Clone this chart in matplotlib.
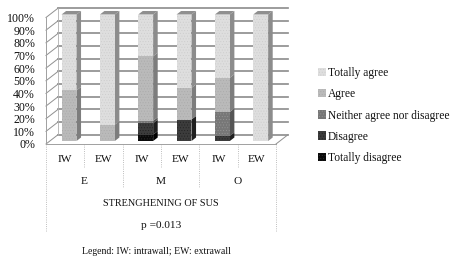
import numpy as np
import matplotlib
matplotlib.use("Agg")
import matplotlib.pyplot as plt
from matplotlib.patches import Patch

plt.rcParams.update({
    "font.family": "Liberation Serif",
    "font.size": 8.2,
    "hatch.linewidth": 0.3,
})

# === Datos ===
bar_labels = ["IW", "EW", "IW", "EW", "IW", "EW"]
group_labels = ["E", "M", "O"]
series_names = ["Totally disagree", "Disagree", "Neither agree nor disagree", "Agree", "Totally agree"]

totally_disagree = [0, 0, 5, 0, 0, 0]
disagree = [0, 0, 9, 17, 4, 0]
neither = [0, 0, 2, 0, 19, 0]
agree = [40, 13, 51, 25, 27, 0]
totally_agree = [60, 87, 33, 58, 50, 100]
series = [totally_disagree, disagree, neither, agree, totally_agree]

face_colors = ["#0a0a0a", "#3c3c3c", "#777777", "#bababa", "#dedede"]
dot_colors = ["#333333", "#1e1e1e", "#9a9a9a", "#a8a8a8", "#cacaca"]
side_colors = ["#000000", "#1f1f1f", "#555555", "#7d7d7d", "#8c8c8c"]
top_color = "#8f8f8f"
grid_color = "#909090"
text_color = "#111111"

W, H = 453, 262
fig = plt.figure(figsize=(W / 100, H / 100), dpi=100)
# plano frontal: x 46-276 px, y 0% en 144 px, 100% en 17.5 px
ax = fig.add_axes([46 / W, 1 - 144 / H, 230 / W, 126.5 / H])
ax.set_xlim(0, 6)
ax.set_ylim(0, 100)
ax.patch.set_visible(False)

# profundidad del efecto 3D en unidades de datos
dx = 12 / 230 * 6
dy = 9.3 / 1.265
d0, d1 = 0.32, 0.70
width = 0.39
x = np.arange(6) + 0.5

# === Paredes y rejilla ===
for t in np.arange(0, 101, 10):
    ax.plot([dx, 6 + dx], [t + dy, t + dy], color=grid_color, lw=1.25, clip_on=False, zorder=1)
    ax.plot([0, dx], [t, t + dy], color=grid_color, lw=0.7, clip_on=False, zorder=1)
ax.plot([dx, dx], [dy, 100 + dy], color="#b0b0b0", lw=0.6, clip_on=False, zorder=1)
ax.plot([6, 6 + dx], [0, dy], color=grid_color, lw=0.7, clip_on=False, zorder=1)

# === Barras apiladas ===
bottom = np.zeros(6)
x0 = x + d0 * dx
x1 = x + d1 * dx
for k, vals in enumerate(series):
    vals = np.array(vals, dtype=float)
    for i in range(6):
        if vals[i] == 0:
            continue
        b = bottom[i]
        t = b + vals[i]
        # cara lateral
        ax.fill([x0[i] + width / 2, x1[i] + width / 2, x1[i] + width / 2, x0[i] + width / 2],
                [b + d0 * dy, b + d1 * dy, t + d1 * dy, t + d0 * dy],
                color=side_colors[k], lw=0, clip_on=False, zorder=3)
    ax.bar(x0[vals > 0], vals[vals > 0], width, bottom=bottom[vals > 0] + d0 * dy,
           facecolor=face_colors[k], edgecolor=dot_colors[k], hatch="......", lw=0,
           clip_on=False, zorder=4)
    bottom += vals

# tapa superior
for i in range(6):
    ax.fill([x0[i] - width / 2, x0[i] + width / 2, x1[i] + width / 2, x1[i] - width / 2],
            [bottom[i] + d0 * dy, bottom[i] + d0 * dy, bottom[i] + d1 * dy, bottom[i] + d1 * dy],
            color=top_color, lw=0, clip_on=False, zorder=3)

# === Ejes ===
for s in ["top", "right"]:
    ax.spines[s].set_visible(False)
for s in ["left", "bottom"]:
    ax.spines[s].set_color("#a0a0a0")
    ax.spines[s].set_linewidth(0.7)
ax.set_yticks(np.arange(0, 101, 10))
ax.set_yticklabels([f"{v}%" for v in range(0, 101, 10)], fontsize=8.6, color=text_color)
ax.tick_params(axis="y", length=0, pad=8)
ax.set_xticks([])

# === Tabla de categorías bajo el eje ===
px = 1.265  # px por unidad de y
def yp(p):
    return (144 - p) / px

sep = dict(color="#a8a8a8", lw=0.6, ls=":", clip_on=False)
for i in [1, 3, 5]:
    ax.plot([i, i], [0, yp(167)], **sep)
for i in [2, 4]:
    ax.plot([i, i], [0, yp(188)], **sep)
for i in [0, 6]:
    ax.plot([i, i], [0, yp(232)], **sep)

for i, lab in enumerate(bar_labels):
    ax.text(i + 0.5, yp(159), lab, ha="center", va="center", color=text_color)
for i, lab in enumerate(group_labels):
    ax.text(2 * i + 1, yp(181), lab, ha="center", va="center", color=text_color)
ax.text(3, yp(203), "STRENGHENING OF SUS", ha="center", va="center", color=text_color, fontsize=7.4)
ax.text(3, yp(225), "p =0.013", ha="center", va="center", color=text_color)
fig.text(157 / W, 1 - 251 / H, "Legend: IW: intrawall; EW: extrawall", ha="center", va="center",
         fontsize=7.05, color=text_color)

# === Leyenda ===
handles = [Patch(facecolor=face_colors[k], edgecolor=dot_colors[k], hatch="......", lw=0,
                 label=series_names[k]) for k in [4, 3, 2, 1, 0]]
fig.legend(handles=handles, loc="center left", bbox_to_anchor=(317.5 / W, 1 - 115.5 / H), frameon=False,
           fontsize=8.3, handlelength=0.75, handleheight=0.75, handletextpad=0.15,
           labelspacing=0.8, labelcolor=text_color, borderpad=0, borderaxespad=0)

fig.savefig("out.png", dpi=100)
